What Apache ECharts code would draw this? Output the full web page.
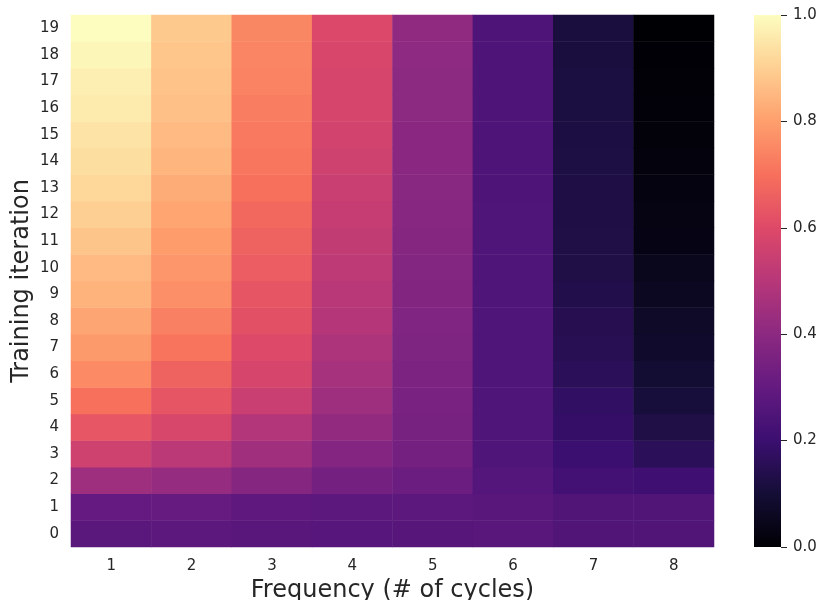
<!DOCTYPE html>
<html>
<head>
<meta charset="utf-8">
<script src="https://cdn.jsdelivr.net/npm/echarts@6/dist/echarts.min.js"></script>
<style>html,body{margin:0;padding:0;background:#fff}#c{width:820px;height:600px}</style>
</head>
<body>
<div id="c"></div>
<script>
// Categories
var frequencies = ['1','2','3','4','5','6','7','8'];
var iterations = ['0','1','2','3','4','5','6','7','8','9','10','11','12','13','14','15','16','17','18','19'];
var colorbarTicks = [0.0, 0.2, 0.4, 0.6, 0.8, 1.0];

// Values per frequency column, listed for iteration 0 .. 19
var freq1 = [0.278,0.300,0.440,0.560,0.633,0.700,0.755,0.790,0.815,0.840,0.856,0.880,0.900,0.920,0.933,0.945,0.960,0.970,0.985,1.000];
var freq2 = [0.283,0.305,0.423,0.510,0.583,0.630,0.664,0.708,0.735,0.765,0.780,0.794,0.812,0.827,0.845,0.856,0.869,0.875,0.882,0.887];
var freq3 = [0.273,0.285,0.383,0.447,0.493,0.545,0.580,0.598,0.617,0.630,0.650,0.664,0.680,0.700,0.713,0.720,0.730,0.740,0.745,0.749];
var freq4 = [0.268,0.283,0.340,0.380,0.415,0.440,0.460,0.477,0.495,0.505,0.515,0.528,0.536,0.546,0.560,0.570,0.576,0.580,0.585,0.592];
var freq5 = [0.265,0.280,0.318,0.340,0.348,0.355,0.360,0.365,0.370,0.375,0.378,0.383,0.388,0.390,0.395,0.395,0.400,0.400,0.405,0.410];
var freq6 = [0.273,0.273,0.260,0.252,0.252,0.251,0.251,0.251,0.250,0.250,0.250,0.250,0.250,0.249,0.249,0.249,0.249,0.248,0.248,0.248];
var freq7 = [0.253,0.253,0.220,0.200,0.185,0.175,0.160,0.150,0.145,0.135,0.130,0.130,0.128,0.125,0.123,0.120,0.118,0.117,0.115,0.113];
var freq8 = [0.253,0.253,0.210,0.160,0.130,0.110,0.095,0.080,0.070,0.058,0.050,0.032,0.028,0.023,0.018,0.013,0.010,0.006,0.003,0.000];

var columns = [freq1,freq2,freq3,freq4,freq5,freq6,freq7,freq8];
var magma = ['#000004','#140e36','#3b0f70','#641a80','#8c2981','#b73779','#de4968','#f7705c','#fe9f6d','#fecf92','#fcfdbf'];

var cells = [];
columns.forEach(function(col, xi){
  col.forEach(function(v, yi){ cells.push([xi, yi, v]); });
});

var FONT = 'DejaVu Sans';
var TXT = '#262626';
var chart = echarts.init(document.getElementById('c'), null, {renderer:'canvas'});
chart.setOption({
  animation: false,
  backgroundColor: '#fff',
  textStyle: {fontFamily: FONT},
  grid: [
    {left: 71, top: 15, width: 643, height: 532, outerBoundsMode: 'none', containLabel: false},
    {left: 754, top: 15, width: 27, height: 532, outerBoundsMode: 'none', containLabel: false}
  ],
  xAxis: [
    {type: 'category', data: frequencies, gridIndex: 0,
     axisLine: {show: false}, axisTick: {show: false}, splitLine: {show: false},
     axisLabel: {fontSize: 15, color: TXT, margin: 12, fontFamily: FONT},
     name: 'Frequency (# of cycles)', nameLocation: 'middle', nameGap: 32, nameMoveOverlap: false,
     nameTextStyle: {fontSize: 24, color: TXT, fontFamily: FONT}},
    {type: 'value', gridIndex: 1, show: false, min: 0, max: 1}
  ],
  yAxis: [
    {type: 'category', data: iterations, gridIndex: 0,
     axisLine: {show: false}, axisTick: {show: false}, splitLine: {show: false},
     axisLabel: {fontSize: 15, color: TXT, margin: 12, fontFamily: FONT},
     name: 'Training iteration', nameLocation: 'middle', nameGap: 37, nameRotate: 90, nameMoveOverlap: false,
     nameTextStyle: {fontSize: 24, color: TXT, fontFamily: FONT}},
    {type: 'value', gridIndex: 1, position: 'right', min: colorbarTicks[0], max: colorbarTicks[colorbarTicks.length-1], interval: 0.2,
     axisLine: {show: false, onZero: false}, splitLine: {show: false},
     axisTick: {show: true, inside: false, length: 6, lineStyle: {color: TXT, width: 1}},
     axisLabel: {fontSize: 15, color: TXT, margin: 12, fontFamily: FONT,
       formatter: function(v){ return v.toFixed(1); }}}
  ],
  visualMap: {
    type: 'continuous', min: 0, max: 1, seriesIndex: 0, show: false,
    inRange: {color: magma}
  },
  series: [
    {type: 'heatmap', xAxisIndex: 0, yAxisIndex: 0, data: cells,
     itemStyle: {borderWidth: 0}, emphasis: {disabled: true}, progressive: 0},
    {type: 'scatter', xAxisIndex: 1, yAxisIndex: 1, data: [], silent: true}
  ]
});

// Colorbar: gradient rectangle placed from the colorbar grid's own scale
var pTop = chart.convertToPixel({gridIndex: 1}, [0, 1]);
var pBot = chart.convertToPixel({gridIndex: 1}, [1, 0]);
var stops = magma.map(function(c, i){ return {offset: 1 - i / (magma.length - 1), color: c}; }).reverse();
chart.setOption({
  graphic: [{
    type: 'rect', silent: true, z: 0,
    shape: {x: pTop[0], y: pTop[1], width: pBot[0] - pTop[0], height: pBot[1] - pTop[1]},
    style: {fill: new echarts.graphic.LinearGradient(0, 0, 0, 1, stops)}
  }]
});
</script>
</body>
</html>
